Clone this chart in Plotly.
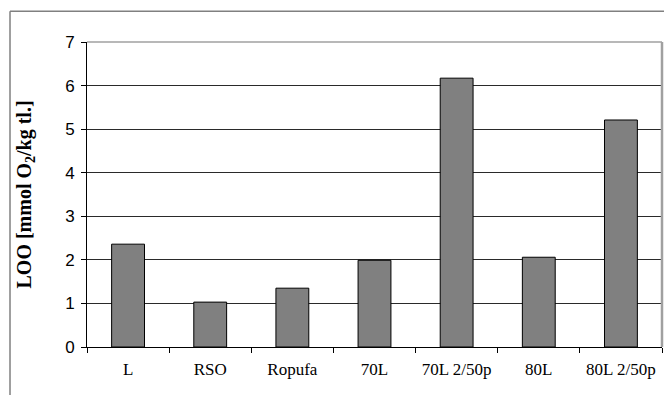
import plotly.graph_objects as go

categories = ["L", "RSO", "Ropufa", "70L", "70L 2/50p", "80L", "80L 2/50p"]
values = [2.36, 1.03, 1.35, 1.99, 6.17, 2.06, 5.21]
y_ticks = [0, 1, 2, 3, 4, 5, 6, 7]
y_title = "<b>LOO [mmol O<sub>2</sub>/kg tl.]</b>"

fig = go.Figure()
fig.add_trace(go.Bar(
    x=categories, y=values,
    marker=dict(color="#808080", line=dict(color="#000000", width=1)),
    width=0.4,
))

fig.update_layout(
    width=664, height=395,
    margin=dict(l=87, r=2, t=42, b=48, autoexpand=False),
    paper_bgcolor="white", plot_bgcolor="white",
    showlegend=False,
    xaxis=dict(
        type="category", automargin=False, tickangle=0,
        showline=True, linecolor="black", linewidth=1,
        ticks="outside", ticklen=5, tickcolor="black", tickson="boundaries",
        tickfont=dict(family="Liberation Serif", size=17, color="black"),
        ticklabelstandoff=7,
        showgrid=False,
    ),
    yaxis=dict(
        range=[0, 7], tickvals=y_ticks, automargin=False,
        showline=True, linecolor="black", linewidth=1,
        ticks="outside", ticklen=5, tickcolor="black",
        tickfont=dict(family="Liberation Sans", size=17, color="black"),
        ticklabelstandoff=3,
        showgrid=True, gridcolor="#2a2a2a", gridwidth=1.2,
        zeroline=False,
    ),
    annotations=[dict(
        text=y_title, xref="paper", yref="paper",
        x=-0.1078, y=0.50, xanchor="center", yanchor="middle",
        textangle=-90, showarrow=False,
        font=dict(family="Liberation Serif", size=20, color="black"),
    )],
    shapes=[
        dict(type="line", xref="paper", yref="paper", x0=0, x1=1, y0=1, y1=1,
             line=dict(color="#a0a0a0", width=1.5), layer="above"),
        dict(type="line", xref="paper", yref="paper", x0=1, x1=1, y0=0, y1=1,
             line=dict(color="#a0a0a0", width=2.5), layer="above"),
        dict(type="line", xref="paper", yref="paper", x0=-0.1339, x1=-0.1339, y0=1.1007, y1=-0.2,
             line=dict(color="#808080", width=1.5)),
        dict(type="line", xref="paper", yref="paper", x0=-0.1339, x1=1.01, y0=1.1007, y1=1.1007,
             line=dict(color="#808080", width=1.5)),
    ],
)

fig.write_html("out.html", config={"displayModeBar": False},
               post_script="document.body.style.margin='0';document.body.style.overflow='hidden';")
